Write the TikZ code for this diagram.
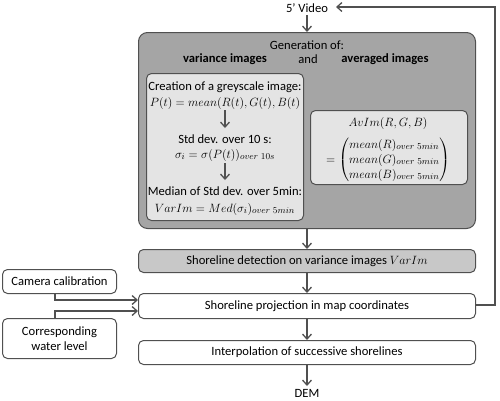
\documentclass[tikz,border=0pt]{standalone}
\usepackage{amsmath}
\usepackage{fontspec}
\setmainfont{Carlito}
\usepackage{xcolor}
\usetikzlibrary{arrows.meta,positioning}

\definecolor{darkbox}{HTML}{A5A5A5}
\definecolor{lightbox}{HTML}{E4E4E4}
\definecolor{midbox}{HTML}{C8C8C8}
\definecolor{edge}{HTML}{505050}

\begin{document}
\begin{tikzpicture}[x=1pt,y=-1pt,
    font=\fontsize{12.6}{15}\selectfont,
    box/.style={draw=edge, line width=1pt, rounded corners=5pt, fill=white},
    flow/.style={draw=edge, line width=1.6pt, -{Straight Barb[length=5pt,width=9pt,line width=1.3pt]}},
    txt/.style={inner sep=0pt, anchor=center},
    mth/.style={txt, font=\fontsize{12.6}{15}\selectfont}]
    \useasboundingbox (0,0) rectangle (500,400);

    \node[txt] (video) at (307,8) {5' Video};

    \node[box, fill=darkbox, minimum width=337pt, minimum height=196pt, anchor=north west, rounded corners=9pt] (gen) at (138,32) {};
    \node[txt] (gentitle) at (307,45) {Generation of:};
    \node[txt, font=\fontsize{12.6}{15}\selectfont\bfseries] (var) at (225,59) {variance images};
    \node[txt] (and) at (308,59) {and};
    \node[txt, font=\fontsize{12.6}{15}\selectfont\bfseries] (avg) at (385,59) {averaged images};

    \node[box, fill=lightbox, minimum width=157pt, minimum height=147pt, anchor=north west] (left) at (146,73) {};
    \node[txt] (grey) at (225,87) {Creation of a greyscale image:};
    \node[mth] (pt) at (225,103) {$P(t) = mean(R(t), G(t), B(t)$};
    \node[txt] (std) at (225,139) {Std dev. over 10 s:};
    \node[mth] (sigma) at (225,155) {$\sigma_i = \sigma(P(t))_{over\ 10s}$};
    \node[txt] (med) at (225,191) {Median of Std dev. over 5min:};
    \node[mth] (varim) at (225,209) {$VarIm = Med(\sigma_i)_{over\ 5min}$};
    \draw[flow] (pt.south |- 0,110) -- (pt.south |- 0,128);
    \draw[flow] (sigma.south |- 0,163) -- (sigma.south |- 0,180);

    \node[box, fill=lightbox, minimum width=157pt, minimum height=74pt, anchor=north west] (right) at (310,110) {};
    \node[mth] (avim) at (388,123) {$AvIm(R, G, B)$};
    \node[mth] (mat) at (388,160) {$= \begin{pmatrix} mean(R)_{over\ 5min}\\ mean(G)_{over\ 5min}\\ mean(B)_{over\ 5min}\end{pmatrix}$};

    \node[box, fill=midbox, minimum width=337pt, minimum height=23pt, anchor=north west] (detect) at (138,249) {};
    \node[txt] at (detect.center) {Shoreline detection on variance images $VarIm$};
    \node[box, minimum width=337pt, minimum height=25pt, anchor=north west] (proj) at (138,293) {};
    \node[txt] at (proj.center) {Shoreline projection in map coordinates};
    \node[box, minimum width=337pt, minimum height=24pt, anchor=north west] (interp) at (138,340) {};
    \node[txt] at (interp.center) {Interpolation of successive shorelines};
    \node[txt] (dem) at (307,393) {DEM};

    \node[box, minimum width=114pt, minimum height=24pt, anchor=north west] (calib) at (2,269) {};
    \node[txt] at (calib.center) {Camera calibration};
    \node[box, minimum width=114pt, minimum height=40pt, anchor=north west, align=center] (water) at (2,318) {};
    \node[txt, align=center] at (water.center) {Corresponding\\water level};

    \coordinate (back) at (336,7);
    \draw[flow] (video.south |- 0,15) -- (gen.north);
    \draw[flow] (gen.south) -- (detect.north);
    \draw[flow] (detect.south) -- (proj.north);
    \draw[flow] (proj.south) -- (interp.north);
    \draw[flow] (interp.south) -- (dem.north |- 0,386);
    \draw[flow] (calib.south -| 55,0) |- (proj.west |- 0,300);
    \draw[flow] (water.north -| 55,0) |- (proj.west |- 0,311);
    \draw[flow] (proj.east |- 0,305) -| (495,7) -- (back);
\end{tikzpicture}
\end{document}
